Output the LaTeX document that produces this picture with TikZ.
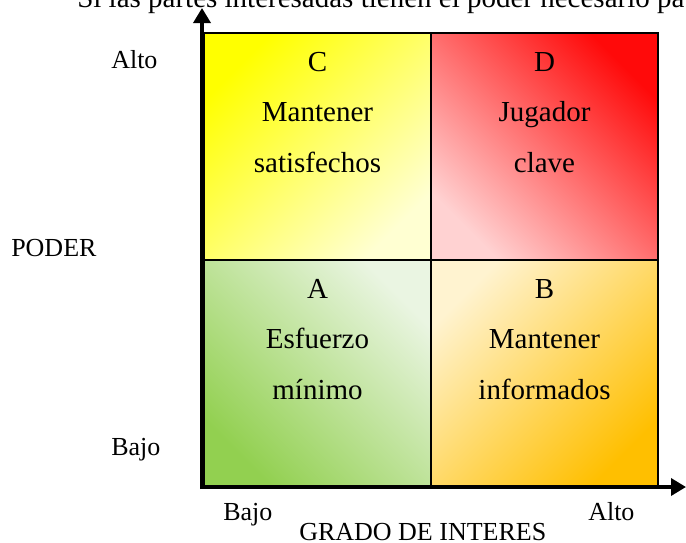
\documentclass[tikz,border=0pt]{standalone}
\usepackage{fontspec}
\setmainfont{Liberation Serif}
\usetikzlibrary{arrows.meta}
\definecolor{cYel}{HTML}{FFFF00}
\definecolor{cYelL}{HTML}{FFFFD2}
\definecolor{cRed}{HTML}{FF0A0A}
\definecolor{cRedL}{HTML}{FFD2D2}
\definecolor{cGrn}{HTML}{92D050}
\definecolor{cGrnL}{HTML}{EAF5E2}
\definecolor{cOrg}{HTML}{FFBF00}
\definecolor{cOrgL}{HTML}{FFF3D0}
\tikzset{
  qtext/.style={anchor=base, inner sep=0pt, font=\fontsize{21.75}{26}\selectfont},
  lbl/.style={anchor=base west, inner sep=0pt, font=\fontsize{19.5}{23}\selectfont},
  qborder/.style={draw=black, line width=1.6pt},
  axisline/.style={line width=2.6pt, -{Triangle[width=12.75pt,length=11.25pt]}},
}
\begin{document}
\begin{tikzpicture}[x=0.75pt,y=-0.75pt]
\useasboundingbox (0,0) rectangle (686,543);
% title (cut by the page edge)
\node[qtext, anchor=base west] (title) at (77,7) {Si las partes interesadas tienen el poder necesario pa};
% quadrants
\shade[top color=cYel, bottom color=cYelL, shading angle=45] (204,33) rectangle (431,260);
\shade[top color=cRed, bottom color=cRedL, shading angle=-45] (431,33) rectangle (658,260);
\shade[top color=cGrnL, bottom color=cGrn, shading angle=-45] (204,260) rectangle (431,487);
\shade[top color=cOrgL, bottom color=cOrg, shading angle=45] (431,260) rectangle (658,487);
\draw[qborder] (204,33) rectangle (431,260);
\draw[qborder] (431,33) rectangle (658,260);
\draw[qborder] (204,260) rectangle (431,487);
\draw[qborder] (431,260) rectangle (658,487);
% axes
\coordinate (yo) at (202,489);
\coordinate (yt) at (202,8);
\coordinate (xo) at (200,487);
\coordinate (xt) at (686,487);
\draw[axisline] (yo) -- (yt);
\draw[axisline] (xo) -- (xt);
% quadrant texts
\node[qtext] (c1) at (317.5,71) {C};
\node[qtext] (c2) at (317.5,121.5) {Mantener};
\node[qtext] (c3) at (317.5,172.5) {satisfechos};
\node[qtext] (d1) at (544.5,71) {D};
\node[qtext] (d2) at (544.5,121.5) {Jugador};
\node[qtext] (d3) at (544.5,172.5) {clave};
\node[qtext] (a1) at (317.5,298) {A};
\node[qtext] (a2) at (317.5,348.5) {Esfuerzo};
\node[qtext] (a3) at (317.5,399.5) {mínimo};
\node[qtext] (b1) at (544.5,298) {B};
\node[qtext] (b2) at (544.5,348.5) {Mantener};
\node[qtext] (b3) at (544.5,399.5) {informados};
% axis labels
\node[lbl] (alto) at (111,68) {Alto};
\node[lbl] (poder) at (11,256.5) {PODER};
\node[lbl] (bajo) at (111,455) {Bajo};
\node[lbl] (xbajo) at (223,520) {Bajo};
\node[lbl] (xalto) at (588,520) {Alto};
\node[lbl] (grado) at (299,540) {GRADO DE INTERES};
\end{tikzpicture}
\end{document}
